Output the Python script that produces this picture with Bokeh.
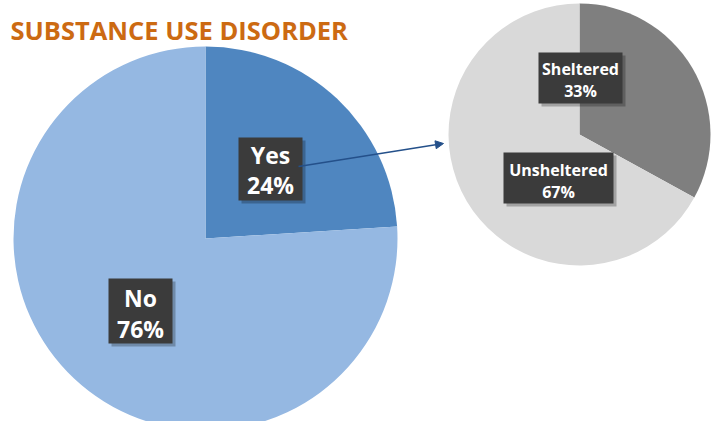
import numpy as np
from bokeh.plotting import figure
from bokeh.models import Range1d, Arrow, NormalHead, ColumnDataSource
from bokeh.core.properties import value
from bokeh.embed import file_html
from bokeh.resources import INLINE

# ---- data ----
title_text = "SUBSTANCE USE DISORDER"
main_categories = ["Yes", "No"]
main_values = [24, 76]
main_colors = ["#4F86C0", "#95B8E2"]
sub_categories = ["Sheltered", "Unsheltered"]
sub_values = [33, 67]
sub_colors = ["#7F7F7F", "#D9D9D9"]

W, H = 711, 421
def Y(py):  # image pixel y -> data y
    return 421 - py

p = figure(width=W, height=H, output_backend="svg", toolbar_location=None,
           x_range=Range1d(0, 711), y_range=Range1d(0, 421),
           min_border=0, outline_line_color=None)
p.axis.visible = False
p.grid.visible = False
p.background_fill_color = "white"
p.border_fill_color = "white"

def pie(cx, cy, r, vals, colors):
    vals = np.array(vals, dtype=float)
    fr = vals / vals.sum()
    cum = np.concatenate([[0], np.cumsum(fr)])
    start = np.pi / 2 - cum[:-1] * 2 * np.pi
    end = np.pi / 2 - cum[1:] * 2 * np.pi
    src = ColumnDataSource(dict(start=start, end=end, color=colors))
    p.wedge(x=cx, y=cy, radius=r, start_angle="end", end_angle="start",
            fill_color="color", line_color=None, source=src)

pie(205, Y(238), 192, main_values, main_colors)
pie(579, Y(134), 131, sub_values, sub_colors)

def label(x0, x1, y0, y1, lines, ys, size):
    p.quad(left=x0 + 3, right=x1 + 3, top=Y(y0 + 3), bottom=Y(y1 + 3),
           fill_color="black", fill_alpha=0.25, line_color=None)
    p.quad(left=x0, right=x1, top=Y(y0), bottom=Y(y1),
           fill_color="#3B3B3B", line_color=None)
    cx = (x0 + x1) / 2
    p.text(x=[cx] * len(lines), y=[Y(v) for v in ys], text=lines,
           text_align="center", text_baseline="middle",
           text_font=value("Open Sans"), text_font_style="bold",
           text_font_size=size, text_color="white")

label(238, 302, 137, 200, [main_categories[0], f"{main_values[0]}%"], [154, 184], "23px")
label(108, 172, 278, 343, [main_categories[1], f"{main_values[1]}%"], [297, 328], "23px")
label(538, 622, 52, 103, [sub_categories[0], f"{sub_values[0]}%"], [68, 90], "16px")
label(503, 613, 152, 203, [sub_categories[1], f"{sub_values[1]}%"], [169, 191], "16px")

p.add_layout(Arrow(x_start=298, y_start=Y(166), x_end=443, y_end=Y(143),
                   line_color="#24508A", line_width=1.5,
                   end=NormalHead(size=8, fill_color="#24508A", line_color="#24508A")))

p.text(x=[10], y=[Y(29)], text=[title_text], text_align="left",
       text_baseline="alphabetic", text_font=value("Open Sans"),
       text_font_style="bold", text_font_size="25.5px", text_color="#CC6A12")

open("out.html", "w").write(file_html(p, INLINE))
